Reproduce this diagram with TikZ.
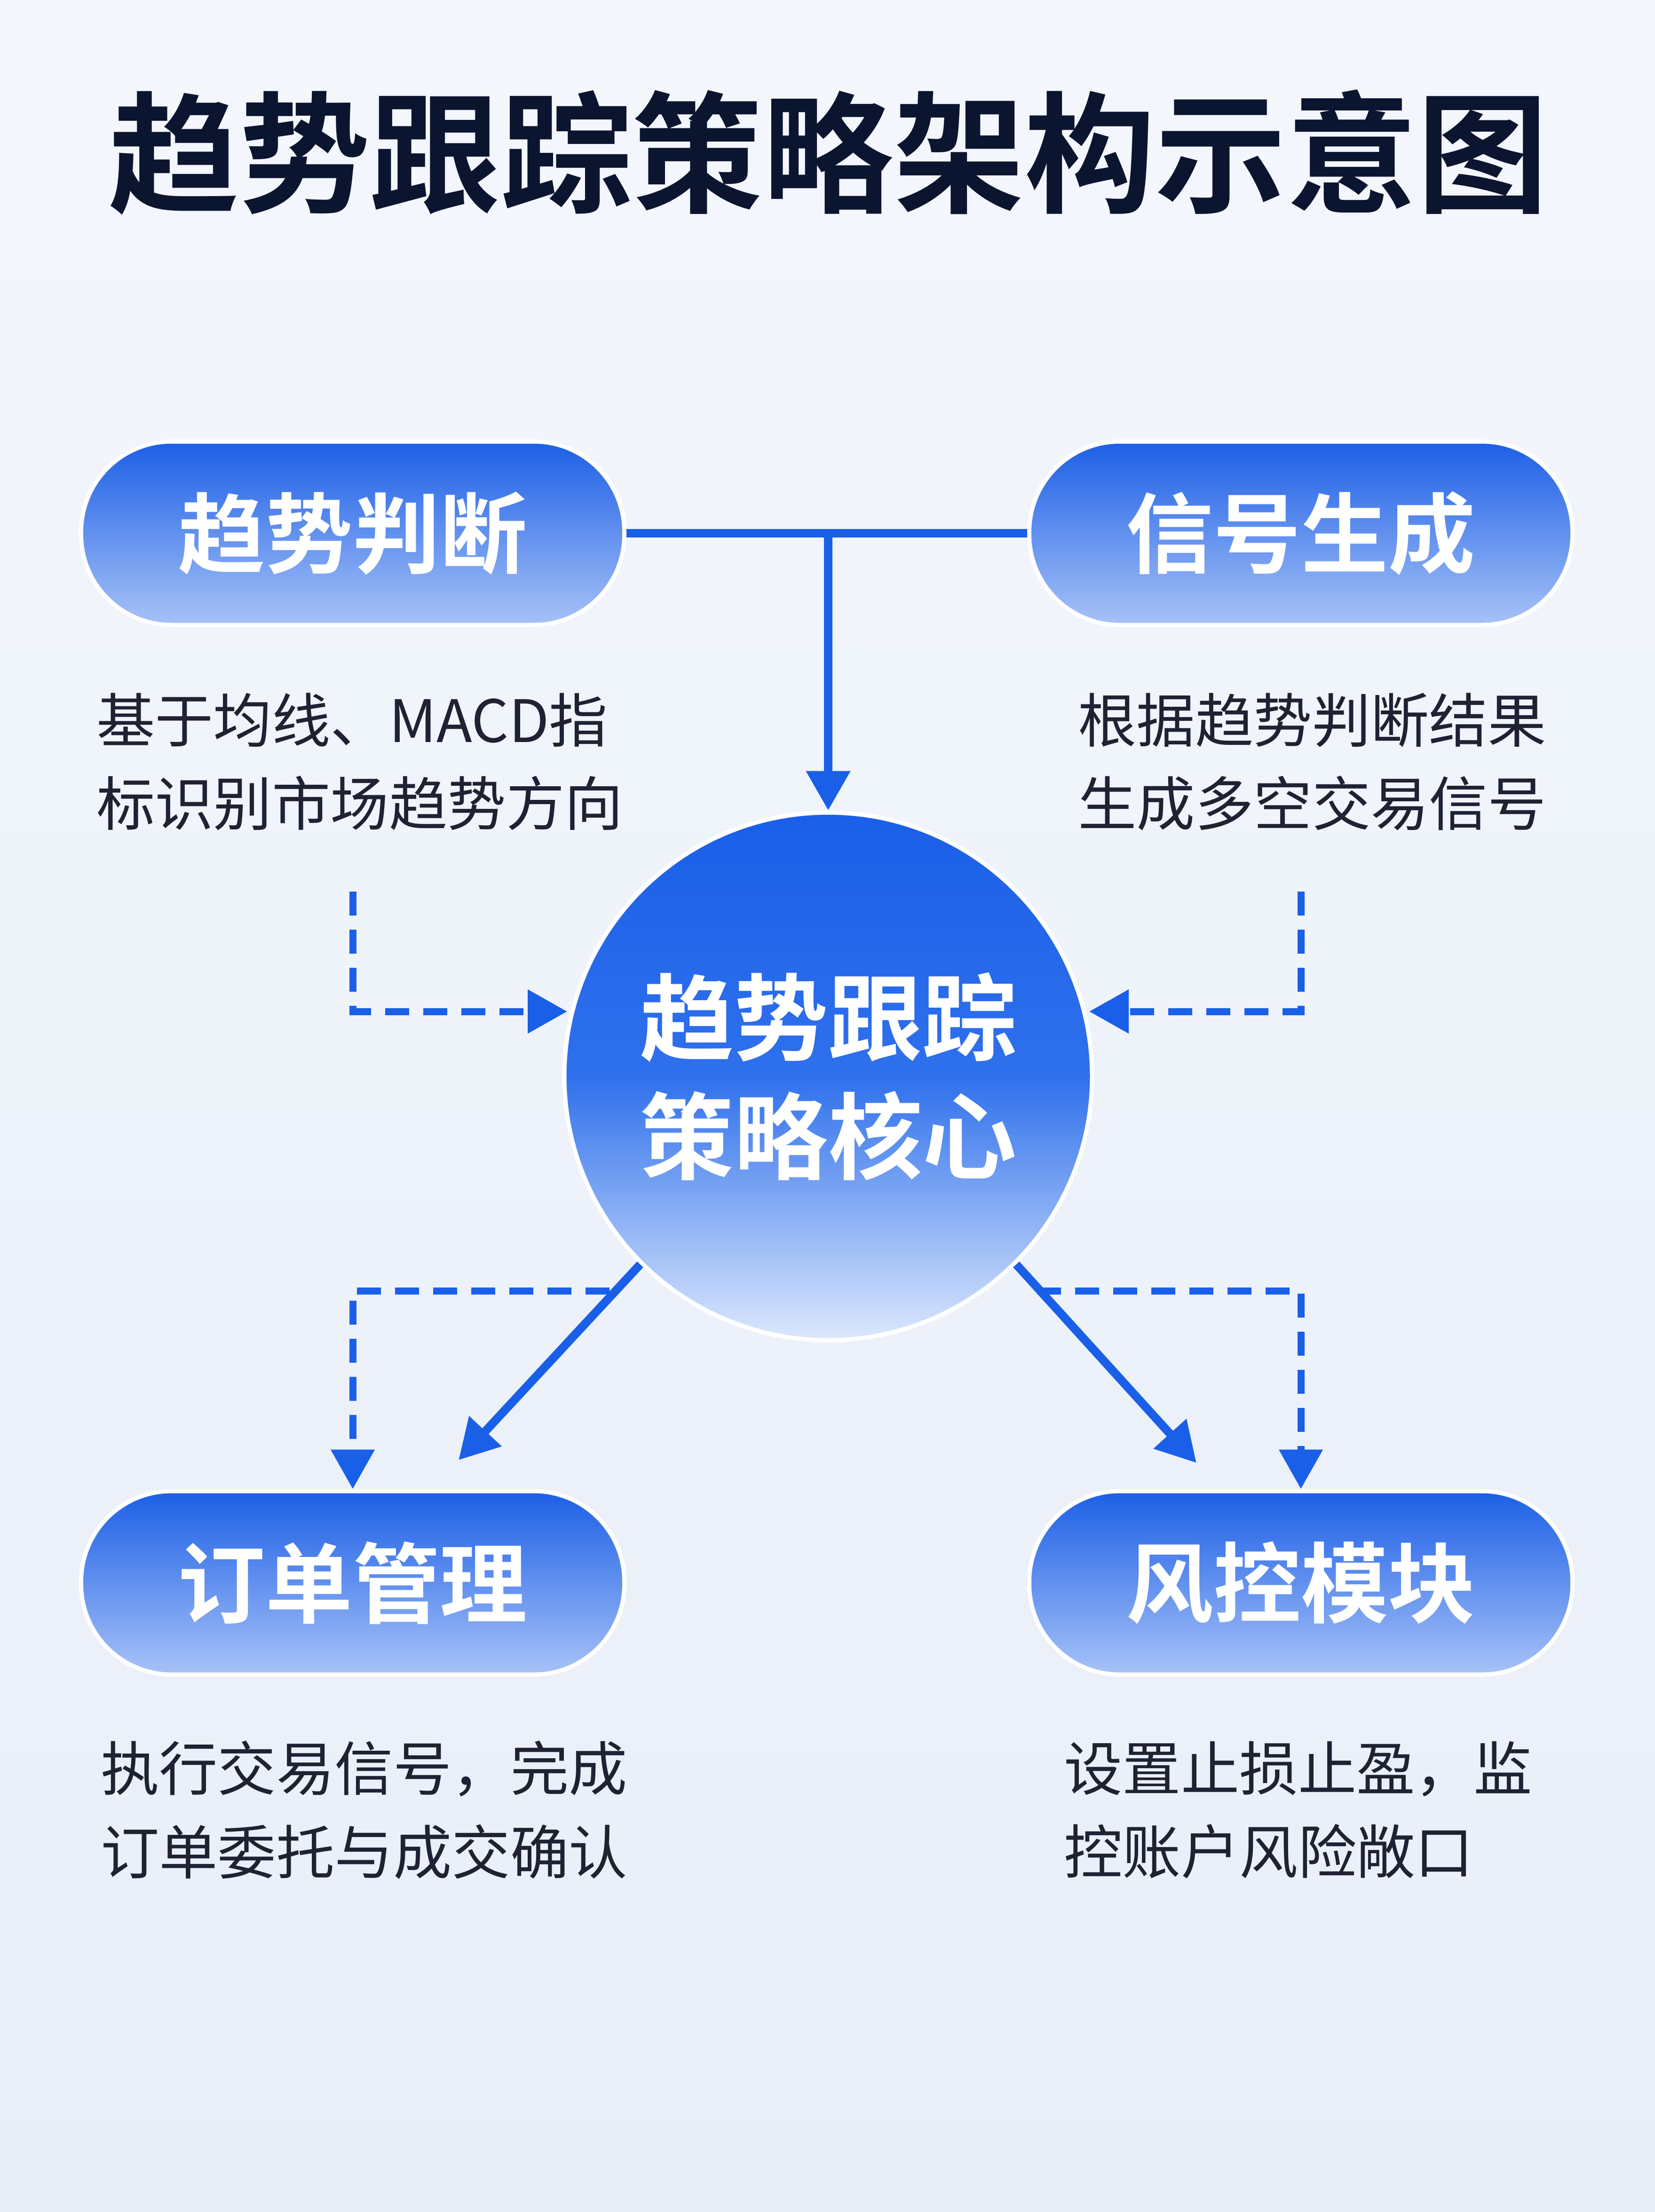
\documentclass[tikz,border=0pt]{standalone}
\usepackage{fontspec}
\newfontfamily\cjk[BoldFont={Noto Sans CJK SC Bold}]{Noto Sans CJK SC}
\usetikzlibrary{arrows.meta}
\definecolor{bgtop}{HTML}{F4F7FC}
\definecolor{bgbot}{HTML}{E8EEF8}
\definecolor{navy}{HTML}{0B1530}
\definecolor{mainblue}{HTML}{1A5FE8}
\definecolor{pilltop}{HTML}{1C5FE6}
\definecolor{pillbot}{HTML}{A7C2F7}
\definecolor{circmid}{HTML}{2F70EC}
\definecolor{circbot}{HTML}{DCE8FC}
\definecolor{txt}{HTML}{1E2233}
\tikzset{
  pill/.style={rounded corners=64mm, minimum width=385mm, minimum height=130mm,
    top color=pilltop, bottom color=pillbot, draw=white, line width=3mm,
    text=white, font=\cjk\bfseries\fontsize{176}{176}\selectfont},
  desc/.style={text=txt, font=\cjk\fontsize{118}{168}\selectfont, align=left},
  conn/.style={draw=mainblue, line width=6mm},
  dsh/.style={draw=mainblue, line width=5mm, dash pattern=on 17mm off 10mm},
  tip/.style={-{Triangle[length=28mm,width=30mm]}}
}
\begin{document}
\begin{tikzpicture}[x=1mm,y=-1mm]
\useasboundingbox (0,0) rectangle (1173,1568);
\shade[top color=bgtop, bottom color=bgbot] (0,0) rectangle (1173,1568);
\node[text=navy, font=\cjk\bfseries\fontsize{264}{264}\selectfont] (title) at (587,108) {趋势跟踪策略架构示意图};

\node[pill] (tl) at (250,378) {趋势判断};
\node[pill] (tr) at (922,378) {信号生成};
\node[pill] (bl) at (250,1122) {订单管理};
\node[pill] (br) at (922,1122) {风控模块};

\node[circle, minimum size=374mm, top color=mainblue, bottom color=circbot, middle color=circmid, draw=white, line width=3mm,
  text=white, align=center, font=\cjk\bfseries\fontsize{190}{240}\selectfont] (core) at (587,763) {趋势跟踪\\策略核心};

\node[desc] (dtl) at (255,540) {基于均线、MACD指\\标识别市场趋势方向};
\node[desc] (dtr) at (930,540) {根据趋势判断结果\\生成多空交易信号};
\node[desc] (dbl) at (258,1283) {执行交易信号，完成\\订单委托与成交确认};
\node[desc] (dbr) at (920,1283) {设置止损止盈，监\\控账户风险敞口};

\coordinate (j) at (587,378);
\draw[conn] (tl.east) -- (tr.west);
\draw[conn,tip] (j) -- (core.north);

\coordinate (dl0) at (250,632); \coordinate (dl1) at (402,717);
\coordinate (dr0) at (922,632); \coordinate (dr1) at (772,717);
\draw[dsh,tip] (dl0) |- (dl1);
\draw[dsh,tip] (dr0) |- (dr1);

\coordinate (bl0) at (432,915); \coordinate (br0) at (735,915);
\draw[dsh,tip] (bl0) -| (bl.north);
\draw[dsh,tip] (br0) -| (br.north);

\coordinate (bla) at (325,1035); \coordinate (bra) at (848,1037);
\draw[conn,tip] (core.-135) -- (bla);
\draw[conn,tip] (core.-45) -- (bra);
\end{tikzpicture}
\end{document}
